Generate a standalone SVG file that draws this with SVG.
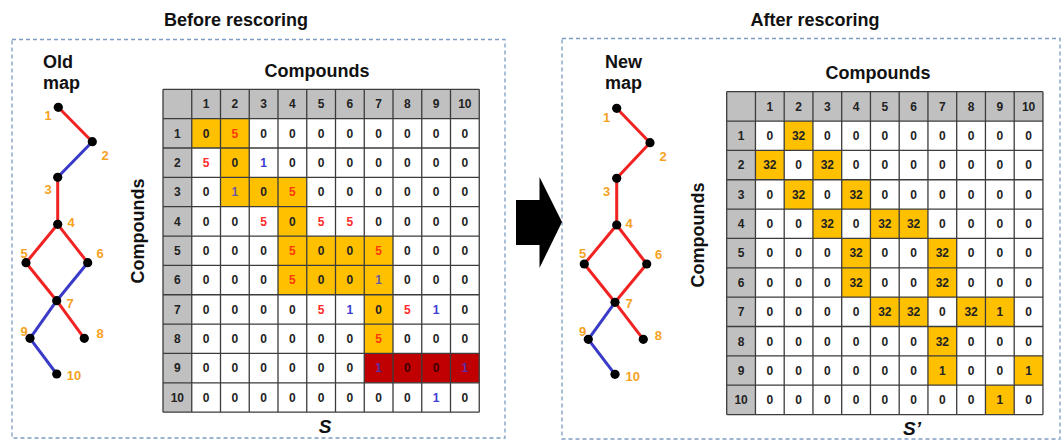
<svg xmlns="http://www.w3.org/2000/svg" xmlns:xlink="http://www.w3.org/1999/xlink" width="1062" height="441" viewBox="0 0 1062 441">
  <style>
    .title { font: bold 18px "Liberation Sans", Arial, sans-serif; fill: #111; }
    .axis { font: bold 18px "Liberation Sans", Arial, sans-serif; fill: #111; text-anchor: middle; }
    .mat { font: italic bold 19px "Liberation Sans", Arial, sans-serif; fill: #111; text-anchor: middle; }
    .panel { fill: none; stroke: #7d9cc4; stroke-width: 1.3; stroke-dasharray: 4 3; }
    .edge-r { stroke: #f02222; stroke-width: 3; fill: none; }
    .edge-b { stroke: #3a3ac8; stroke-width: 3; fill: none; }
    .dot { fill: #000; }
    .lbl { font: bold 13px "Liberation Sans", Arial, sans-serif; fill: #f5a21e; text-anchor: middle; }
    .hd { fill: #c0c0c0; }
    .or { fill: #ffc000; }
    .dr { fill: #c00000; }
    .grid { fill: none; stroke: #3c3c3c; stroke-width: 1.3; }
    .cells text { font: bold 12px "Liberation Sans", Arial, sans-serif; fill: #222; text-anchor: middle; }
    .cells text.r { fill: #ff2a2a; }
    .cells text.ro { fill: #ff3a0a; }
    .cells text.b { fill: #3c3cd2; }
    .cells text.bo { fill: #6a5aa0; }
    .cells text.bd { fill: #5a2ea8; }
    .cells text.d { fill: #3a0000; }
  </style>
  <defs>
    <path id="grid" class="grid" d="M0 0V322.85M28.75 0V322.85M57.5 0V322.85M86.25 0V322.85M115 0V322.85M143.75 0V322.85M172.5 0V322.85M201.25 0V322.85M230 0V322.85M258.75 0V322.85M287.5 0V322.85M316.25 0V322.85M0 0H316.25M0 29.35H316.25M0 58.7H316.25M0 88.05H316.25M0 117.4H316.25M0 146.75H316.25M0 176.1H316.25M0 205.45H316.25M0 234.8H316.25M0 264.15H316.25M0 293.5H316.25M0 322.85H316.25"/>
    <g id="headers">
      <rect class="hd" x="0" y="0" width="316.25" height="29.35"/>
      <rect class="hd" x="0" y="0" width="28.75" height="322.85"/>
    </g>
  </defs>

  <rect width="1062" height="441" fill="#fff"/>

  <!-- panels -->
  <rect class="panel" x="12" y="39.5" width="493" height="398.5"/>
  <rect class="panel" x="562" y="38.5" width="498" height="400.5"/>
  <text class="title" x="236" y="25.5" text-anchor="middle">Before rescoring</text>
  <text class="title" x="815" y="25.5" text-anchor="middle">After rescoring</text>

  <!-- transition arrow -->
  <polygon id="arrow" points="516,200 539.5,200 539.5,177 562,222 539.5,268 539.5,245 516,245" fill="#000"/>

  <!-- ===== left panel: old map ===== -->
  <text class="title" x="43" y="68">Old</text>
  <text class="title" x="43" y="89">map</text>

  <g id="old-map-edges">
    <line class="edge-r" x1="58.3" y1="107.3" x2="92.3" y2="141.7"/>
    <line class="edge-b" x1="92.3" y1="141.7" x2="57.7" y2="177.3"/>
    <line class="edge-r" x1="57.7" y1="177.3" x2="57.7" y2="224.3"/>
    <line class="edge-r" x1="57.7" y1="224.3" x2="26" y2="262.7"/>
    <line class="edge-r" x1="57.7" y1="224.3" x2="87.7" y2="262.7"/>
    <line class="edge-r" x1="26" y1="262.7" x2="56.7" y2="300.7"/>
    <line class="edge-b" x1="87.7" y1="262.7" x2="56.7" y2="300.7"/>
    <line class="edge-r" x1="56.7" y1="300.7" x2="84.3" y2="338.3"/>
    <line class="edge-b" x1="56.7" y1="300.7" x2="30" y2="338.3"/>
    <line class="edge-b" x1="30" y1="338.3" x2="56.7" y2="374"/>
  </g>
  <g id="old-n1"><circle class="dot" cx="58.3" cy="107.3" r="4.6"/><text class="lbl" x="48" y="120">1</text></g>
  <g id="old-n2"><circle class="dot" cx="92.3" cy="141.7" r="4.6"/><text class="lbl" x="105" y="160">2</text></g>
  <g id="old-n3"><circle class="dot" cx="57.7" cy="177.3" r="4.6"/><text class="lbl" x="48" y="194">3</text></g>
  <g id="old-n4"><circle class="dot" cx="57.7" cy="224.3" r="4.6"/><text class="lbl" x="71" y="226.5">4</text></g>
  <g id="old-n5"><circle class="dot" cx="26" cy="262.7" r="4.6"/><text class="lbl" x="24" y="258">5</text></g>
  <g id="old-n6"><circle class="dot" cx="87.7" cy="262.7" r="4.6"/><text class="lbl" x="100" y="258">6</text></g>
  <g id="old-n7"><circle class="dot" cx="56.7" cy="300.7" r="4.6"/><text class="lbl" x="70" y="307.5">7</text></g>
  <g id="old-n8"><circle class="dot" cx="84.3" cy="338.3" r="4.6"/><text class="lbl" x="100" y="338">8</text></g>
  <g id="old-n9"><circle class="dot" cx="30" cy="338.3" r="4.6"/><text class="lbl" x="24" y="335.5">9</text></g>
  <g id="old-n10"><circle class="dot" cx="56.7" cy="374" r="4.6"/><text class="lbl" x="74" y="380">10</text></g>

  <!-- ===== left panel: matrix S ===== -->
  <text class="axis" x="317" y="77">Compounds</text>
  <text class="axis" transform="translate(144,231) rotate(-90)">Compounds</text>
  <text class="mat" x="325" y="432.5">S</text>

  <g id="matrix-s" transform="translate(163,89.3)">
    <rect x="0" y="0" width="316.25" height="322.85" fill="#fff"/>
    <use xlink:href="#headers"/>
    <rect class="or" x="28.75" y="29.35" width="57.5" height="29.35"/>
    <rect class="or" x="57.5" y="58.7" width="28.75" height="29.35"/>
    <rect class="or" x="57.5" y="88.05" width="86.25" height="29.35"/>
    <rect class="or" x="115" y="117.4" width="28.75" height="29.35"/>
    <rect class="or" x="115" y="146.75" width="115" height="58.7"/>
    <rect class="or" x="201.25" y="205.45" width="28.75" height="58.7"/>
    <rect class="dr" x="201.25" y="264.15" width="115" height="29.35"/>
    <use xlink:href="#grid"/>
    <g class="cells">
      <g transform="translate(0,19)"><text x="43.13">1</text><text x="71.88">2</text><text x="100.63">3</text><text x="129.38">4</text><text x="158.13">5</text><text x="186.88">6</text><text x="215.63">7</text><text x="244.38">8</text><text x="273.13">9</text><text x="301.88">10</text></g>
      <g transform="translate(0,48.35)"><text x="14.38">1</text><text x="43.13">0</text><text class="ro" x="71.88">5</text><text x="100.63">0</text><text x="129.38">0</text><text x="158.13">0</text><text x="186.88">0</text><text x="215.63">0</text><text x="244.38">0</text><text x="273.13">0</text><text x="301.88">0</text></g>
      <g transform="translate(0,77.7)"><text x="14.38">2</text><text class="r" x="43.13">5</text><text x="71.88">0</text><text class="b" x="100.63">1</text><text x="129.38">0</text><text x="158.13">0</text><text x="186.88">0</text><text x="215.63">0</text><text x="244.38">0</text><text x="273.13">0</text><text x="301.88">0</text></g>
      <g transform="translate(0,107.05)"><text x="14.38">3</text><text x="43.13">0</text><text class="bo" x="71.88">1</text><text x="100.63">0</text><text class="ro" x="129.38">5</text><text x="158.13">0</text><text x="186.88">0</text><text x="215.63">0</text><text x="244.38">0</text><text x="273.13">0</text><text x="301.88">0</text></g>
      <g transform="translate(0,136.4)"><text x="14.38">4</text><text x="43.13">0</text><text x="71.88">0</text><text class="r" x="100.63">5</text><text x="129.38">0</text><text class="r" x="158.13">5</text><text class="r" x="186.88">5</text><text x="215.63">0</text><text x="244.38">0</text><text x="273.13">0</text><text x="301.88">0</text></g>
      <g transform="translate(0,165.75)"><text x="14.38">5</text><text x="43.13">0</text><text x="71.88">0</text><text x="100.63">0</text><text class="ro" x="129.38">5</text><text x="158.13">0</text><text x="186.88">0</text><text class="ro" x="215.63">5</text><text x="244.38">0</text><text x="273.13">0</text><text x="301.88">0</text></g>
      <g transform="translate(0,195.1)"><text x="14.38">6</text><text x="43.13">0</text><text x="71.88">0</text><text x="100.63">0</text><text class="ro" x="129.38">5</text><text x="158.13">0</text><text x="186.88">0</text><text class="bo" x="215.63">1</text><text x="244.38">0</text><text x="273.13">0</text><text x="301.88">0</text></g>
      <g transform="translate(0,224.45)"><text x="14.38">7</text><text x="43.13">0</text><text x="71.88">0</text><text x="100.63">0</text><text x="129.38">0</text><text class="r" x="158.13">5</text><text class="b" x="186.88">1</text><text x="215.63">0</text><text class="r" x="244.38">5</text><text class="b" x="273.13">1</text><text x="301.88">0</text></g>
      <g transform="translate(0,253.8)"><text x="14.38">8</text><text x="43.13">0</text><text x="71.88">0</text><text x="100.63">0</text><text x="129.38">0</text><text x="158.13">0</text><text x="186.88">0</text><text class="ro" x="215.63">5</text><text x="244.38">0</text><text x="273.13">0</text><text x="301.88">0</text></g>
      <g transform="translate(0,283.15)"><text x="14.38">9</text><text x="43.13">0</text><text x="71.88">0</text><text x="100.63">0</text><text x="129.38">0</text><text x="158.13">0</text><text x="186.88">0</text><text class="bd" x="215.63">1</text><text class="d" x="244.38">0</text><text class="d" x="273.13">0</text><text class="bd" x="301.88">1</text></g>
      <g transform="translate(0,312.5)"><text x="14.38">10</text><text x="43.13">0</text><text x="71.88">0</text><text x="100.63">0</text><text x="129.38">0</text><text x="158.13">0</text><text x="186.88">0</text><text x="215.63">0</text><text x="244.38">0</text><text class="b" x="273.13">1</text><text x="301.88">0</text></g>
    </g>
  </g>

  <!-- ===== right panel: new map ===== -->
  <text class="title" x="605" y="68">New</text>
  <text class="title" x="605" y="89">map</text>

  <g id="new-map-edges">
    <line class="edge-r" x1="616.7" y1="108.3" x2="650" y2="142.7"/>
    <line class="edge-r" x1="650" y1="142.7" x2="616.7" y2="178.3"/>
    <line class="edge-r" x1="616.7" y1="178.3" x2="616.7" y2="225"/>
    <line class="edge-r" x1="616.7" y1="225" x2="584.3" y2="264"/>
    <line class="edge-r" x1="616.7" y1="225" x2="646.7" y2="264"/>
    <line class="edge-r" x1="584.3" y1="264" x2="615" y2="302.3"/>
    <line class="edge-r" x1="646.7" y1="264" x2="615" y2="302.3"/>
    <line class="edge-r" x1="615" y1="302.3" x2="643.3" y2="339.3"/>
    <line class="edge-b" x1="615" y1="302.3" x2="588.3" y2="339.3"/>
    <line class="edge-b" x1="588.3" y1="339.3" x2="615" y2="374.3"/>
  </g>
  <g id="new-n1"><circle class="dot" cx="616.7" cy="108.3" r="4.6"/><text class="lbl" x="606.7" y="121.5">1</text></g>
  <g id="new-n2"><circle class="dot" cx="650" cy="142.7" r="4.6"/><text class="lbl" x="663" y="160.5">2</text></g>
  <g id="new-n3"><circle class="dot" cx="616.7" cy="178.3" r="4.6"/><text class="lbl" x="606.7" y="195.5">3</text></g>
  <g id="new-n4"><circle class="dot" cx="616.7" cy="225" r="4.6"/><text class="lbl" x="629" y="227.5">4</text></g>
  <g id="new-n5"><circle class="dot" cx="584.3" cy="264" r="4.6"/><text class="lbl" x="582.7" y="258">5</text></g>
  <g id="new-n6"><circle class="dot" cx="646.7" cy="264" r="4.6"/><text class="lbl" x="658.7" y="258.5">6</text></g>
  <g id="new-n7"><circle class="dot" cx="615" cy="302.3" r="4.6"/><text class="lbl" x="629" y="307.5">7</text></g>
  <g id="new-n8"><circle class="dot" cx="643.3" cy="339.3" r="4.6"/><text class="lbl" x="658.3" y="339.5">8</text></g>
  <g id="new-n9"><circle class="dot" cx="588.3" cy="339.3" r="4.6"/><text class="lbl" x="582.7" y="336">9</text></g>
  <g id="new-n10"><circle class="dot" cx="615" cy="374.3" r="4.6"/><text class="lbl" x="632.7" y="381">10</text></g>

  <!-- ===== right panel: matrix S' ===== -->
  <text class="axis" x="878" y="79">Compounds</text>
  <text class="axis" transform="translate(704,235) rotate(-90)">Compounds</text>
  <text class="mat" x="912" y="435">S’</text>

  <g id="matrix-s-prime" transform="translate(726.7,91.7)">
    <rect x="0" y="0" width="316.25" height="322.85" fill="#fff"/>
    <use xlink:href="#headers"/>
    <rect class="or" x="57.5" y="29.35" width="28.75" height="29.35"/>
    <rect class="or" x="28.75" y="58.7" width="28.75" height="29.35"/>
    <rect class="or" x="86.25" y="58.7" width="28.75" height="29.35"/>
    <rect class="or" x="57.5" y="88.05" width="28.75" height="29.35"/>
    <rect class="or" x="115" y="88.05" width="28.75" height="29.35"/>
    <rect class="or" x="86.25" y="117.4" width="28.75" height="29.35"/>
    <rect class="or" x="143.75" y="117.4" width="57.5" height="29.35"/>
    <rect class="or" x="115" y="146.75" width="28.75" height="58.7"/>
    <rect class="or" x="201.25" y="146.75" width="28.75" height="58.7"/>
    <rect class="or" x="143.75" y="205.45" width="57.5" height="29.35"/>
    <rect class="or" x="230" y="205.45" width="57.5" height="29.35"/>
    <rect class="or" x="201.25" y="234.8" width="28.75" height="58.7"/>
    <rect class="or" x="287.5" y="264.15" width="28.75" height="29.35"/>
    <rect class="or" x="258.75" y="293.5" width="28.75" height="29.35"/>
    <use xlink:href="#grid"/>
    <g class="cells">
      <g transform="translate(0,19)"><text x="43.13">1</text><text x="71.88">2</text><text x="100.63">3</text><text x="129.38">4</text><text x="158.13">5</text><text x="186.88">6</text><text x="215.63">7</text><text x="244.38">8</text><text x="273.13">9</text><text x="301.88">10</text></g>
      <g transform="translate(0,48.35)"><text x="14.38">1</text><text x="43.13">0</text><text x="71.88">32</text><text x="100.63">0</text><text x="129.38">0</text><text x="158.13">0</text><text x="186.88">0</text><text x="215.63">0</text><text x="244.38">0</text><text x="273.13">0</text><text x="301.88">0</text></g>
      <g transform="translate(0,77.7)"><text x="14.38">2</text><text x="43.13">32</text><text x="71.88">0</text><text x="100.63">32</text><text x="129.38">0</text><text x="158.13">0</text><text x="186.88">0</text><text x="215.63">0</text><text x="244.38">0</text><text x="273.13">0</text><text x="301.88">0</text></g>
      <g transform="translate(0,107.05)"><text x="14.38">3</text><text x="43.13">0</text><text x="71.88">32</text><text x="100.63">0</text><text x="129.38">32</text><text x="158.13">0</text><text x="186.88">0</text><text x="215.63">0</text><text x="244.38">0</text><text x="273.13">0</text><text x="301.88">0</text></g>
      <g transform="translate(0,136.4)"><text x="14.38">4</text><text x="43.13">0</text><text x="71.88">0</text><text x="100.63">32</text><text x="129.38">0</text><text x="158.13">32</text><text x="186.88">32</text><text x="215.63">0</text><text x="244.38">0</text><text x="273.13">0</text><text x="301.88">0</text></g>
      <g transform="translate(0,165.75)"><text x="14.38">5</text><text x="43.13">0</text><text x="71.88">0</text><text x="100.63">0</text><text x="129.38">32</text><text x="158.13">0</text><text x="186.88">0</text><text x="215.63">32</text><text x="244.38">0</text><text x="273.13">0</text><text x="301.88">0</text></g>
      <g transform="translate(0,195.1)"><text x="14.38">6</text><text x="43.13">0</text><text x="71.88">0</text><text x="100.63">0</text><text x="129.38">32</text><text x="158.13">0</text><text x="186.88">0</text><text x="215.63">32</text><text x="244.38">0</text><text x="273.13">0</text><text x="301.88">0</text></g>
      <g transform="translate(0,224.45)"><text x="14.38">7</text><text x="43.13">0</text><text x="71.88">0</text><text x="100.63">0</text><text x="129.38">0</text><text x="158.13">32</text><text x="186.88">32</text><text x="215.63">0</text><text x="244.38">32</text><text x="273.13">1</text><text x="301.88">0</text></g>
      <g transform="translate(0,253.8)"><text x="14.38">8</text><text x="43.13">0</text><text x="71.88">0</text><text x="100.63">0</text><text x="129.38">0</text><text x="158.13">0</text><text x="186.88">0</text><text x="215.63">32</text><text x="244.38">0</text><text x="273.13">0</text><text x="301.88">0</text></g>
      <g transform="translate(0,283.15)"><text x="14.38">9</text><text x="43.13">0</text><text x="71.88">0</text><text x="100.63">0</text><text x="129.38">0</text><text x="158.13">0</text><text x="186.88">0</text><text x="215.63">1</text><text x="244.38">0</text><text x="273.13">0</text><text x="301.88">1</text></g>
      <g transform="translate(0,312.5)"><text x="14.38">10</text><text x="43.13">0</text><text x="71.88">0</text><text x="100.63">0</text><text x="129.38">0</text><text x="158.13">0</text><text x="186.88">0</text><text x="215.63">0</text><text x="244.38">0</text><text x="273.13">1</text><text x="301.88">0</text></g>
    </g>
  </g>
</svg>
